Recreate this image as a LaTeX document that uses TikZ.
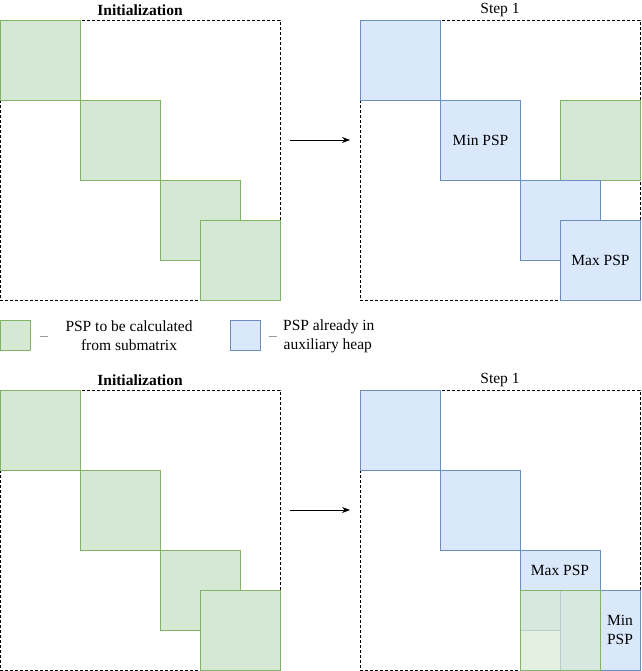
\documentclass[tikz,border=0pt]{standalone}
\usepackage{fontspec}
\setmainfont{Liberation Serif}
\usetikzlibrary{arrows.meta}
\definecolor{gfill}{HTML}{D5E8D4}
\definecolor{gline}{HTML}{82B366}
\definecolor{bfill}{HTML}{DAE8FC}
\definecolor{bline}{HTML}{6C8EBF}
\tikzset{
  frame/.style={draw=black, dash pattern=on 3pt off 2pt, line width=0.8pt, minimum width=280pt, minimum height=280pt, inner sep=0pt, anchor=north west},
  gcell/.style={draw=gline, fill=gfill, line width=1pt, minimum width=80pt, minimum height=80pt, inner sep=0pt, anchor=north west},
  bcell/.style={draw=bline, fill=bfill, line width=1pt, minimum width=80pt, minimum height=80pt, inner sep=0pt, anchor=north west},
  lbl/.style={font=\fontsize{15.5pt}{19pt}\selectfont, align=center, inner sep=0pt},
  ttl/.style={font=\fontsize{15.5pt}{19pt}\selectfont, inner sep=0pt},
  flow/.style={-{Stealth[length=8pt,width=6pt]}, line width=0.8pt},
}
\begin{document}
\begin{tikzpicture}[x=1pt,y=-1pt]
\useasboundingbox (0,0) rectangle (641,671);

% ---------------- upper row ----------------
\node[ttl] (t1) at (140,10) {\textbf{Initialization}};
\node[ttl] (t2) at (500,10) {Step 1};

\node[frame] (f1) at (0,20) {};
\node[gcell] (a1) at (0,20) {};
\node[gcell] (a2) at (80,100) {};
\node[gcell] (a3) at (160,180) {};
\node[gcell] (a4) at (200,220) {};

\node[frame] (f2) at (360,20) {};
\node[bcell] (b1) at (360,20) {};
\node[bcell] (b2) at (440,100) {};
\node[lbl] at (b2.center) {Min PSP};
\node[gcell] (b3) at (560,100) {};
\node[bcell] (b4) at (520,180) {};
\node[bcell] (b5) at (560,220) {};
\node[lbl] at (b5.center) {Max PSP};

\coordinate (p1) at (290,140);
\coordinate (p2) at (350,140);
\draw[flow] (p1) -- (p2);

% ---------------- legend ----------------
\node[gcell, minimum width=30pt, minimum height=30pt] (lg) at (0,320) {};
\node[lbl, text=gray, anchor=west] (lgd) at (40,336) {\_};
\node[lbl] (lgt) at (129,336) {PSP to be calculated\\from submatrix};
\node[bcell, minimum width=30pt, minimum height=30pt] (lb) at (230,320) {};
\node[lbl, text=gray, anchor=west] (lbd) at (269,336) {\_};
\node[lbl, anchor=west] (lbt) at (283,336) {PSP already in\\\hspace*{-2pt}auxiliary heap};

% ---------------- lower row ----------------
\node[ttl] (t3) at (140,380) {\textbf{Initialization}};
\node[ttl] (t4) at (500,380) {Step 1};

\node[frame] (f3) at (0,390) {};
\node[gcell] (c1) at (0,390) {};
\node[gcell] (c2) at (80,470) {};
\node[gcell] (c3) at (160,550) {};
\node[gcell] (c4) at (200,590) {};

\node[frame] (f4) at (360,390) {};
\node[bcell] (d1) at (360,390) {};
\node[bcell] (d2) at (440,470) {};
\node[bcell] (d3) at (520,550) {};
\node[lbl] at (560,570) {Max PSP};
\node[bcell] (d4) at (560,590) {};
\node[gcell, fill opacity=0.7] (d5) at (520,590) {};
\node[lbl] at (620,630) {Min\\PSP};

\coordinate (q1) at (290,510);
\coordinate (q2) at (350,510);
\draw[flow] (q1) -- (q2);
\end{tikzpicture}
\end{document}
